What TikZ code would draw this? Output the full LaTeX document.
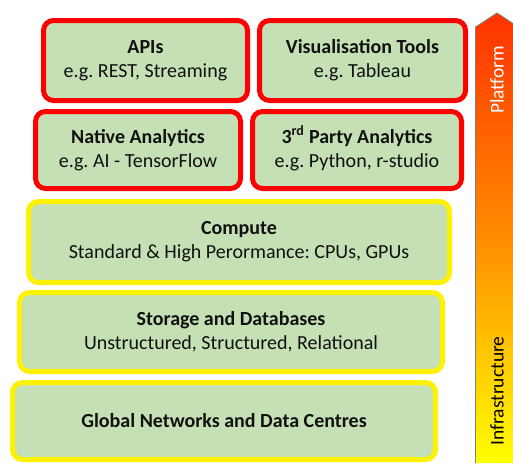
\documentclass[tikz,border=0pt]{standalone}
\usepackage{fontspec}
\setmainfont{Carlito}
\frenchspacing
\begin{document}
\begin{tikzpicture}[x=1pt,y=-1pt,
  layer/.style={draw, line width=5pt, rounded corners=10pt, fill=boxgreen,
    align=center, text=textdark, inner sep=0pt,
    font=\fontsize{20}{24}\selectfont},
  app/.style={layer, draw=red},
  base/.style={layer, draw=yellow},
  sidelabel/.style={rotate=90, inner sep=0pt, font=\fontsize{19.5}{23.5}\selectfont}
]
\definecolor{boxgreen}{HTML}{C5E0B4}
\definecolor{textdark}{HTML}{111111}
\definecolor{topred}{RGB}{255,50,0}
\definecolor{edgegray}{HTML}{7F7F7F}

\useasboundingbox (0,0) rectangle (513,463);
\clip (0,0) rectangle (513,463);

% application layer
\node[app, minimum width=204pt, minimum height=80pt] (apis) at (145.5,60.5)
  {\textbf{APIs}\\e.g. REST, Streaming};
\node[app, minimum width=206pt, minimum height=80pt] (vis) at (362.5,60.5)
  {\textbf{Visualisation Tools}\\e.g. Tableau};
\node[app, minimum width=205pt, minimum height=77pt] (native) at (138,150)
  {\textbf{Native Analytics}\\e.g. AI - TensorFlow};
\node[app, minimum width=209pt, minimum height=77pt] (third) at (357,150)
  {\textbf{3\smash{\textsuperscript{rd}} Party Analytics}\\e.g. Python, r-studio};

% infrastructure layer
\node[base, minimum width=421pt, minimum height=81pt] (compute) at (239,242)
  {\textbf{Compute}\\Standard \& High Perormance: CPUs, GPUs};
\node[base, minimum width=423pt, minimum height=79pt] (storage) at (231,332)
  {\textbf{Storage and Databases}\\Unstructured, Structured, Relational};
\node[base, minimum width=423pt, minimum height=77pt] (network) at (224,421)
  {\textbf{Global Networks and Data Centres}};

% stack arrow from infrastructure up to platform
\shade[top color=topred, bottom color=yellow, middle color=orange!90!yellow]
  (475.5,463) -- (475.5,27) -- (497,13) -- (518.5,27) -- (518.5,463) -- cycle;
\draw[edgegray, line width=0.8pt]
  (475.5,463) -- (475.5,27) -- (497,13) -- (518.5,27);
\node[sidelabel, text=white] (platform) at (497,80) {Platform};
\node[sidelabel, text=black] (infra) at (497,391) {Infrastructure};
\end{tikzpicture}
\end{document}
